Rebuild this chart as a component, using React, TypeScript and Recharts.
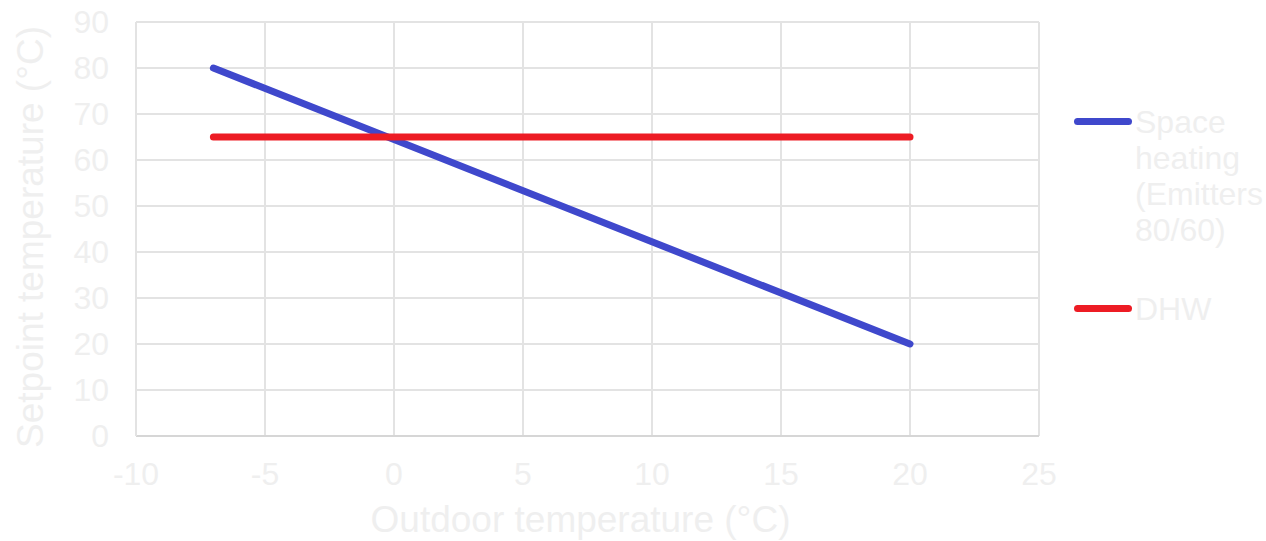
import { LineChart, Line, XAxis, YAxis, CartesianGrid, Legend, Label } from "recharts";

// Outdoor temperature (°C) at the ends of each setpoint curve
const outdoorTemps = [-7, 20];
// Setpoint temperatures (°C)
const spaceHeating = [80, 20];
const dhw = [65, 65];

const seriesNames = ["Space heating (Emitters 80/60)", "DHW"];

const xTicks = [-10, -5, 0, 5, 10, 15, 20, 25];
const yTicks = [0, 10, 20, 30, 40, 50, 60, 70, 80, 90];

const spaceData = outdoorTemps.map((x, i) => ({ x, y: spaceHeating[i] }));
const dhwData = outdoorTemps.map((x, i) => ({ x, y: dhw[i] }));

const FONT = "'Liberation Sans', Arial, sans-serif";
const TEXT = "#efefef";
const GRID = "#e3e3e3";

function LegendBox({ payload }: any) {
  // keep the series order (recharts sorts legend items by name otherwise)
  const items = [...(payload || [])].sort(
    (a: any, b: any) => seriesNames.indexOf(a.value) - seriesNames.indexOf(b.value)
  );
  return (
    <div style={{ fontFamily: FONT, fontSize: 32, lineHeight: "36px", color: TEXT }}>
      {items.map((p: any, i: number) => (
        <div key={i} style={{ display: "flex", alignItems: "flex-start", marginBottom: i === 0 ? 43 : 0 }}>
          <div
            style={{
              width: 58,
              height: 7,
              borderRadius: 4,
              background: p.color,
              marginTop: 14,
              marginRight: 3,
              flex: "none",
            }}
          />
          <div style={{ width: 131 }}>{p.value}</div>
        </div>
      ))}
    </div>
  );
}

export default function App() {
  return (
    <div style={{ position: "absolute", left: 0, top: 0, background: "#fff" }}>
      <LineChart width={1266} height={541} margin={{ top: 22, right: 227, bottom: 0, left: 0 }}>
        <CartesianGrid stroke={GRID} strokeWidth={2} />
        <XAxis
          type="number"
          dataKey="x"
          domain={[-10, 25]}
          ticks={xTicks}
          height={105}
          tickSize={0}
          tickMargin={26}
          axisLine={{ stroke: "#d6d6d6", strokeWidth: 2 }}
          tick={{ fontSize: 32, fill: TEXT, fontFamily: FONT }}
        >
          <Label
            content={({ viewBox }: any) => (
              <text
                x={viewBox.x + viewBox.width / 2 - 7}
                y={532}
                textAnchor="middle"
                fontSize={37}
                fill={TEXT}
                fontFamily={FONT}
              >
                Outdoor temperature (°C)
              </text>
            )}
          />
        </XAxis>
        <YAxis
          type="number"
          domain={[0, 90]}
          ticks={yTicks}
          width={136}
          tickSize={0}
          tickMargin={27}
          axisLine={{ stroke: GRID, strokeWidth: 2 }}
          tick={{ fontSize: 32, fill: TEXT, fontFamily: FONT }}
        >
          <Label
            content={({ viewBox }: any) => {
              const cy = viewBox.y + viewBox.height / 2 + 8;
              return (
                <text
                  x={43}
                  y={cy}
                  transform={`rotate(-90 43 ${cy})`}
                  textAnchor="middle"
                  fontSize={37}
                  fill={TEXT}
                  fontFamily={FONT}
                >
                  Setpoint temperature (°C)
                </text>
              );
            }}
          />
        </YAxis>
        <Line
          data={spaceData}
          dataKey="y"
          name={seriesNames[0]}
          type="linear"
          stroke="#3f48cc"
          strokeWidth={7}
          strokeLinecap="round"
          dot={false}
          activeDot={false}
          isAnimationActive={false}
        />
        <Line
          data={dhwData}
          dataKey="y"
          name={seriesNames[1]}
          type="linear"
          stroke="#ed1c24"
          strokeWidth={7}
          strokeLinecap="round"
          dot={false}
          activeDot={false}
          isAnimationActive={false}
        />
        <Legend
          layout="horizontal"
          align="center"
          verticalAlign="middle"
          wrapperStyle={{ left: 1074, top: 104, width: 192 }}
          content={LegendBox}
        />
      </LineChart>
    </div>
  );
}
